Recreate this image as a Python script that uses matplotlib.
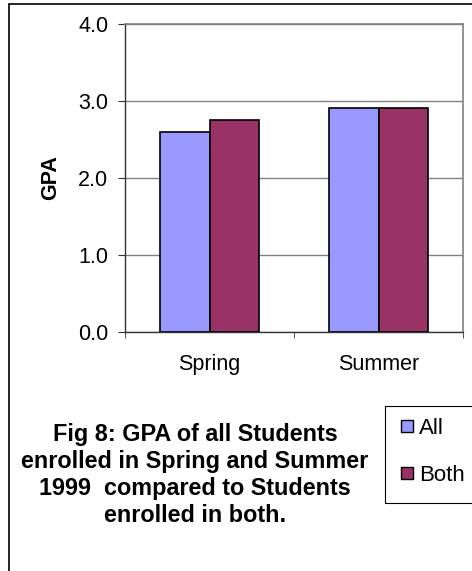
import matplotlib

matplotlib.use("Agg")
import matplotlib.pyplot as plt
import numpy as np
from matplotlib.lines import Line2D
from matplotlib.patches import Rectangle

categories = ["Spring", "Summer"]
gpa_all = [2.60, 2.91]
gpa_both = [2.75, 2.91]
series_names = ["All", "Both"]
colors = ["#9999FF", "#993366"]
yticks = [0.0, 1.0, 2.0, 3.0, 4.0]
title = ("Fig 8: GPA of all Students\nenrolled in Spring and Summer\n"
         "1999  compared to Students\nenrolled in both.")

plt.rcParams["font.family"] = ["Liberation Sans", "DejaVu Sans"]

W, H = 472, 571
fig = plt.figure(figsize=(W / 100, H / 100), dpi=100)


def fx(px):
    return px / W


def fy(py):
    return 1 - py / H


ax = fig.add_axes([fx(125), fy(332), fx(463) - fx(125), fy(24) - fy(332)])

x = np.arange(len(categories))
bw = 0.29
ax.bar(x - bw / 2, gpa_all, bw, color=colors[0], edgecolor="black", lw=1.2, zorder=3)
ax.bar(x + bw / 2, gpa_both, bw, color=colors[1], edgecolor="black", lw=1.2, zorder=3)

ax.set_xlim(-0.5, 1.5)
ax.set_ylim(0, 4)
ax.set_yticks(yticks)
ax.set_yticklabels([f"{v:.1f}" for v in yticks], fontsize=15.5)
ax.yaxis.grid(True, color="#808080", lw=1, zorder=0)
ax.set_xticks(x)
ax.set_xticklabels(categories, fontsize=15.5)
ax.set_xticks([-0.5, 0.5, 1.5], minor=True)
ax.tick_params(axis="x", which="major", length=0, pad=16)
ax.tick_params(axis="x", which="minor", length=4, direction="out", color="#333333")
ax.tick_params(axis="y", length=5, direction="out", color="#333333", pad=7)
ax.set_ylabel("GPA", fontsize=15.5, fontweight="bold", labelpad=12)

for side in ("top", "right"):
    ax.spines[side].set_color("#808080")
    ax.spines[side].set_linewidth(1.2)
for side in ("left", "bottom"):
    ax.spines[side].set_color("#333333")
    ax.spines[side].set_linewidth(1.0)

# outer chart frame, runs off the right and bottom edges
fig.patches.append(Rectangle((fx(9), -0.05), 1.2, fy(4) + 0.05, transform=fig.transFigure,
                             fill=False, ec="black", lw=1.2))

fig.text(fx(195), fy(475), title, ha="center", va="center", fontsize=16.8,
         fontweight="bold", linespacing=1.22)

# legend frame, also cut off at the right edge
fig.patches.append(Rectangle((fx(385), fy(503)), 0.5, fy(406) - fy(503),
                             transform=fig.transFigure, fill=False, ec="black", lw=0.8))
handles = [Line2D([], [], ls="none", marker="s", markersize=9, markerfacecolor=c,
                  markeredgecolor="black", markeredgewidth=1.0) for c in colors]
fig.legend(handles, series_names, loc="upper left", bbox_to_anchor=(fx(400), fy(418)),
           frameon=False, fontsize=16, handlelength=0.6, handletextpad=0.25,
           labelspacing=1.15, borderpad=0, borderaxespad=0)

fig.savefig("out.png", dpi=100)
